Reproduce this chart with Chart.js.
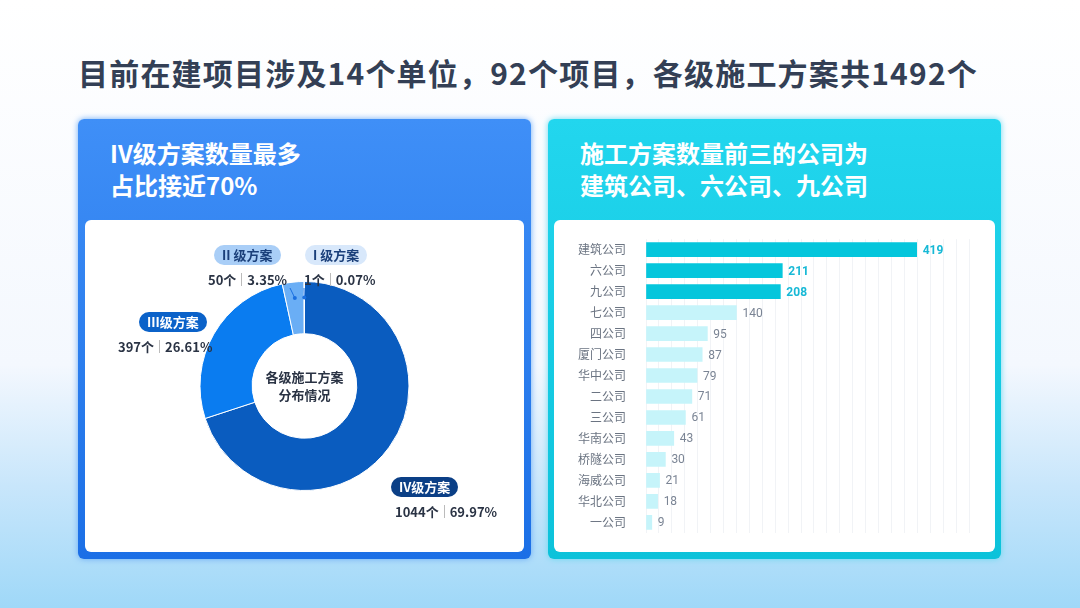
<!DOCTYPE html>
<html><head><meta charset="utf-8">
<script src="https://cdn.jsdelivr.net/npm/chart.js@4"></script>
<style>
body{margin:0;width:1080px;height:608px;overflow:hidden;font-family:"Noto Sans CJK SC","Noto Sans",sans-serif;
background:linear-gradient(180deg,#ffffff 0%,#f4f8fe 60%,#c8e6fb 80%,#9fd8f8 100%);position:relative}
h1{position:absolute;left:78px;top:50px;margin:0;font-size:30px;font-weight:700;color:#333f55;letter-spacing:1.2px}
.card{position:absolute;top:119px;height:440px;border-radius:6px}
.card .t{position:absolute;left:32px;top:18px;color:#fff;font-size:24px;font-weight:700;line-height:32px}
.inner{position:absolute;top:101px;height:332px;background:#fff;border-radius:6px}
.pill{position:absolute;padding:0 8px;height:20px;line-height:20px;border-radius:10px;font-size:13px;font-weight:700}
.val{position:absolute;font-size:13px;font-weight:700;color:#2a3344;white-space:nowrap}
.val i{display:inline-block;width:1px;height:13px;background:#bbb;margin:0 5px;vertical-align:-1px}
</style></head><body>
<h1>目前在建项目涉及14个单位，92个项目，各级施工方案共1492个</h1>
<div class="card" style="left:78px;width:453px;background:linear-gradient(180deg,#3f8ff7,#1b6fe6);box-shadow:0 0 6px #6aaaf5">
 <div class="t">IV级方案数量最多<br>占比接近70%</div>
 <div class="inner" style="left:7px;width:439px">
  <canvas id="pie" width="439" height="332"></canvas>
  <div class="pill" style="left:129px;top:25px;background:#a9cef7;color:#1a3f7a">II 级方案</div>
  <div class="pill" style="left:220px;top:25px;background:#d8e8fb;color:#1a3f7a">I 级方案</div>
  <div class="val" style="left:123px;top:50px">50个<i></i>3.35%</div>
  <div class="val" style="left:219px;top:50px">1个<i></i>0.07%</div>
  <div class="pill" style="left:54px;top:92px;background:#0b62c9;color:#fff">III级方案</div>
  <div class="val" style="left:33px;top:117px">397个<i></i>26.61%</div>
  <div class="pill" style="left:306px;top:257px;background:#0b3f86;color:#fff">IV级方案</div>
  <div class="val" style="left:310px;top:282px">1044个<i></i>69.97%</div>
 </div>
</div>
<div class="card" style="left:548px;width:453px;background:linear-gradient(180deg,#22d6ee,#0cc2da);box-shadow:0 0 6px #6ad8ee">
 <div class="t">施工方案数量前三的公司为<br>建筑公司、六公司、九公司</div>
 <div class="inner" style="left:6px;width:441px">
  <canvas id="bar" width="441" height="332"></canvas>
 </div>
</div>
<script>
const levels = ['IV级方案', 'III级方案', 'II级方案', 'I级方案'];
const levelCounts = [1044, 397, 50, 1];
const levelColors = ['#0a5cbf', '#0a7cf0', '#6aaef5', '#d4e6fb'];

const companies = ['建筑公司', '六公司', '九公司', '七公司', '四公司', '厦门公司', '华中公司', '二公司', '三公司', '华南公司', '桥隧公司', '海威公司', '华北公司', '一公司'];
const planCounts = [419, 211, 208, 140, 95, 87, 79, 71, 61, 43, 30, 21, 18, 9];

// leader lines for the two small slices
const leaders = {
  id: 'leaders',
  afterDraw(chart) {
    const ctx = chart.ctx;
    const meta = chart.getDatasetMeta(0);
    const ends = [[205, 68], [219, 68]];
    [2, 3].forEach((idx, k) => {
      const arc = meta.data[idx];
      const mid = (arc.startAngle + arc.endAngle) / 2;
      const r = arc.outerRadius - 16;
      const x = arc.x + Math.cos(mid) * r, y = arc.y + Math.sin(mid) * r;
      ctx.save();
      ctx.strokeStyle = '#1a6fe0'; ctx.fillStyle = '#1a6fe0'; ctx.lineWidth = 1;
      ctx.beginPath(); ctx.moveTo(x, y); ctx.lineTo(ends[k][0], ends[k][1]); ctx.stroke();
      ctx.beginPath(); ctx.arc(x, y, 2, 0, Math.PI * 2); ctx.fill();
      ctx.restore();
    });
    ctx.save();
    ctx.fillStyle = '#2a3344'; ctx.font = 'bold 13px "Noto Sans CJK SC"';
    ctx.textAlign = 'center'; ctx.textBaseline = 'middle';
    const c = meta.data[0];
    ctx.fillText('各级施工方案', c.x, c.y - 9);
    ctx.fillText('分布情况', c.x, c.y + 9);
    ctx.restore();
  }
};

new Chart(document.getElementById('pie'), {
  type: 'doughnut',
  data: { labels: levels, datasets: [{ data: levelCounts, backgroundColor: levelColors, borderColor: '#fff', borderWidth: 1 }] },
  options: {
    responsive: false, animation: false, cutout: '50%',
    layout: { padding: { top: 61, bottom: 61 } },
    plugins: { legend: { display: false }, tooltip: { enabled: false } }
  },
  plugins: [leaders]
});

const valueLabels = {
  id: 'valueLabels',
  afterDatasetsDraw(chart) {
    const ctx = chart.ctx;
    chart.getDatasetMeta(0).data.forEach((bar, i) => {
      const top = i < 3;
      ctx.save();
      ctx.font = (top ? 'bold ' : '') + '12px Roboto';
      ctx.fillStyle = top ? '#17b9d6' : '#7a8494';
      ctx.textBaseline = 'middle';
      ctx.fillText(planCounts[i], bar.x + 6, bar.y + 1);
      ctx.restore();
    });
  }
};

new Chart(document.getElementById('bar'), {
  type: 'bar',
  data: { labels: companies, datasets: [{ data: planCounts,
    backgroundColor: planCounts.map((v, i) => i < 3 ? '#05c6dc' : '#c6f4fa'), barThickness: 14 }] },
  options: {
    indexAxis: 'y', responsive: false, animation: false,
    layout: { padding: { top: 18, bottom: 18, right: 26, left: 12 } },
    scales: {
      x: { min: 0, max: 500, ticks: { display: false, stepSize: 20 }, grid: { color: '#f1f3f6', drawTicks: false }, border: { display: false } },
      y: { grid: { display: false }, border: { display: false },
        ticks: { color: '#6b7482', font: { size: 12, family: '"Noto Sans CJK SC"' }, padding: 12 } }
    },
    plugins: { legend: { display: false }, tooltip: { enabled: false } }
  },
  plugins: [valueLabels]
});
</script>
</body></html>
